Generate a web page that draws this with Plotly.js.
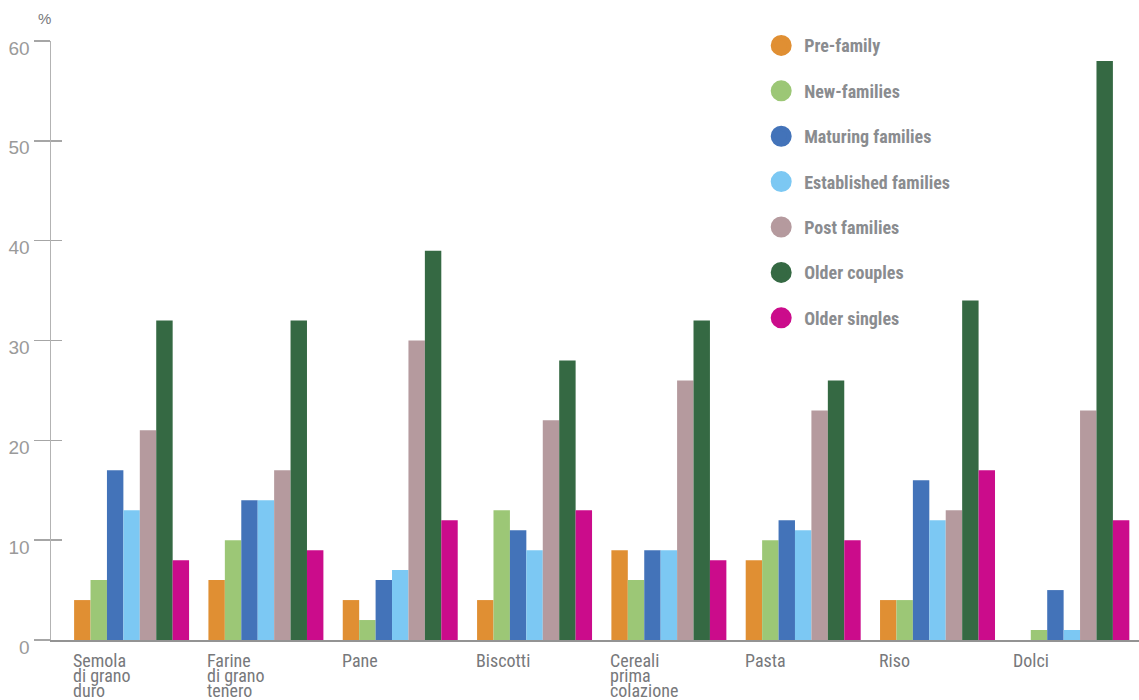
<!DOCTYPE html>
<html><head><meta charset="utf-8">
<script src="https://cdn.plot.ly/plotly-3.0.1.min.js"></script>
<style>html,body{margin:0;padding:0;background:#fff}#chart{width:1139px;height:700px}</style>
</head><body><div id="chart"></div>
<script>
// ---- data ----
const categories = ["Semola<br>di grano<br>duro", "Farine<br>di grano<br>tenero", "Pane", "Biscotti", "Cereali<br>prima<br>colazione", "Pasta", "Riso", "Dolci"];
const seriesNames = ["Pre-family", "New-families", "Maturing families", "Established families", "Post families", "Older couples", "Older singles"];
const seriesColors = ["#E08F33", "#9CC776", "#4373B9", "#7CC8F3", "#B59A9E", "#356943", "#CB0C8B"];
const preFamily = [4, 6, 4, 4, 9, 8, 4, null];
const newFamilies = [6, 10, 2, 13, 6, 10, 4, 1];
const maturingFamilies = [17, 14, 6, 11, 9, 12, 16, 5];
const establishedFamilies = [13, 14, 7, 9, 9, 11, 12, 1];
const postFamilies = [21, 17, 30, 22, 26, 23, 13, 23];
const olderCouples = [32, 32, 39, 28, 32, 26, 34, 58];
const olderSingles = [8, 9, 12, 13, 8, 10, 17, 12];
const yTicks = [0, 10, 20, 30, 40, 50, 60];
const yUnit = "%";

const seriesValues = [preFamily, newFamilies, maturingFamilies, establishedFamilies, postFamilies, olderCouples, olderSingles];
const catIdx = categories.map((c, i) => i);

const labelFont = "'Liberation Sans Narrow', 'Arial Narrow', 'Roboto Condensed', Roboto, 'Liberation Sans', sans-serif";
const traces = [];
seriesValues.forEach((vals, s) => {
  traces.push({
    type: 'bar', x: catIdx, y: vals, name: seriesNames[s],
    marker: {color: seriesColors[s], line: {width: 0}},
    showlegend: false, hoverinfo: 'y+name'
  });
});
// legend proxies (circle symbols)
seriesNames.forEach((n, s) => {
  traces.push({
    type: 'scatter', mode: 'markers', x: [null], y: [null], name: n,
    legendgroup: 'g' + s,
    marker: {color: seriesColors[s], size: 16, symbol: 'circle', line: {color: seriesColors[s], width: 5}},
    showlegend: true, hoverinfo: 'skip'
  });
});
// empty trace so the inner tick axis is drawn
traces.push({type: 'scatter', mode: 'markers', x: [null], y: [null], yaxis: 'y2', showlegend: false, hoverinfo: 'skip'});

const annotations = [];
categories.forEach((c, i) => {
  c.split('<br>').forEach((line, k) => {
    annotations.push({
      x: i - 0.428, y: 0, xref: 'x', yref: 'y', xanchor: 'left', yanchor: 'top',
      xshift: -2, yshift: -9 - 15 * k, showarrow: false, text: line, borderpad: 0,
      font: {family: labelFont, size: 18, color: '#77787b'}
    });
  });
});
annotations.push({
  x: -0.0064, y: 1.038, xref: 'paper', yref: 'paper', xanchor: 'center', yanchor: 'middle',
  showarrow: false, text: yUnit, font: {family: "'Liberation Sans', sans-serif", size: 15, color: '#77787b'}
});

const layout = {
  width: 1139, height: 700,
  margin: {l: 51, r: 0, t: 41, b: 60, pad: 0},
  paper_bgcolor: '#fff', plot_bgcolor: '#fff',
  barmode: 'group', bargap: 0.144, bargroupgap: 0,
  showlegend: true,
  legend: {
    x: 0.650, y: 1.023, xanchor: 'left', yanchor: 'top',
    traceorder: 'grouped', tracegroupgap: 19, itemwidth: 36,
    font: {family: labelFont, size: 18, color: '#8a8c8f', weight: 'bold'},
    bgcolor: 'rgba(0,0,0,0)', itemclick: false
  },
  xaxis: {
    type: 'linear', range: [-0.6, 7.5], showticklabels: false, ticks: '',
    showline: true, linecolor: '#939393', linewidth: 2, showgrid: false, zeroline: false, fixedrange: true
  },
  yaxis: {
    range: [0, 60], tickvals: yTicks, ticktext: yTicks.map(String),
    ticks: 'outside', ticklen: 16, tickwidth: 1.5, tickcolor: '#a6a6a6',
    ticklabelshift: 7, ticklabelstandoff: 0,
    tickfont: {family: "'Liberation Sans', sans-serif", size: 19, color: '#9a9a9a'},
    showline: true, linecolor: '#b3b3b3', linewidth: 1.5, showgrid: false, zeroline: false, fixedrange: true
  },
  yaxis2: {
    overlaying: 'y', anchor: 'x', side: 'left', range: [0, 60], tickvals: yTicks,
    ticks: 'inside', ticklen: 11, tickwidth: 1.5, tickcolor: '#a6a6a6',
    showticklabels: false, showline: false, showgrid: false, zeroline: false, fixedrange: true
  },
  annotations: annotations
};

Plotly.newPlot('chart', traces, layout, {displayModeBar: false, staticPlot: true});
</script>
</body></html>
